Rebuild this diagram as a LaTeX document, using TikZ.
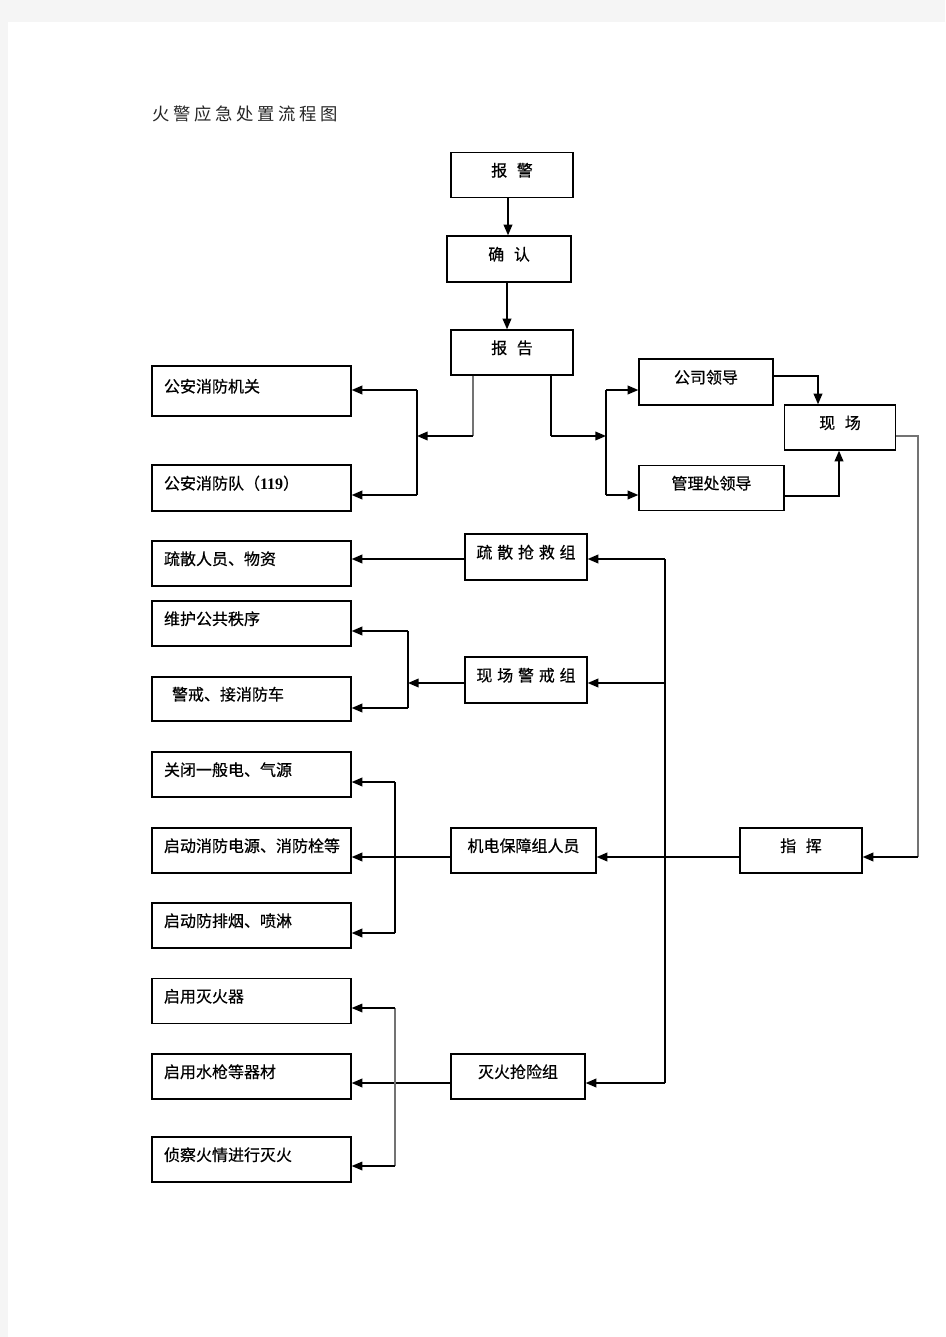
\documentclass[tikz,border=0pt]{standalone}
\usepackage{fontspec}
\setmainfont{Liberation Serif}
\newfontfamily\cjk{Noto Sans CJK SC}
\newfontfamily\cjkb[FakeBold=0.5]{Noto Sans CJK SC}
\usetikzlibrary{arrows.meta}

\newcommand{\zgap}{\hspace{0.6em}}
\newcommand{\xgap}{\hspace{0.3em}}

\tikzset{
    box/.style={draw=black, line width=1pt, inner sep=0pt, text height=9pt, text depth=7pt,
        font=\cjkb\fontsize{12pt}{14pt}\selectfont},
    leftbox/.style={box, minimum width=149.25pt, minimum height=33.75pt,
        text width=131.25pt, inner xsep=9pt, align=left},
    arr/.style={line width=1.2pt, -{Triangle[length=8pt,width=6.5pt]}},
    bus/.style={line width=1.2pt},
    greyline/.style={line width=0.8pt, draw=black!55},
}

\begin{document}
\begin{tikzpicture}[x=0.75pt, y=-0.75pt]
    % Fondo / pagina
    \useasboundingbox (0,0) rectangle (945,1337);
    \fill[gray!8] (0,0) rectangle (945,1337);
    \fill[white] (8,22) rectangle (945,1337);

    % Titulo
    \node[anchor=west, inner sep=0pt, text=black!85,
        font=\cjk\fontsize{13pt}{15pt}\selectfont\addfontfeature{LetterSpace=21}] (title) at (152,114) {火警应急处置流程图};

    % Cajas centrales
    \node[box, minimum width=91.5pt, minimum height=33.75pt] (bj) at (512,175) {报\zgap 警};
    \node[box, minimum width=93pt, minimum height=34.5pt] (qr) at (509,259) {确\zgap 认};
    \node[box, minimum width=91.5pt, minimum height=33.75pt] (bg) at (512,352.5) {报\zgap 告};
    \node[box, minimum width=100.5pt, minimum height=34.5pt] (gsld) at (706,382) {公司领导};
    \node[box, minimum width=108.75pt, minimum height=33.75pt] (glcld) at (711.5,488) {管理处领导};
    \node[box, minimum width=83.25pt, minimum height=33.75pt] (xc) at (840,427.5) {现\zgap 场};
    \node[box, minimum width=91.5pt, minimum height=34.5pt] (ssqj) at (526,557) {疏\xgap 散\xgap 抢\xgap 救\xgap 组};
    \node[box, minimum width=91.5pt, minimum height=34.5pt] (xcjj) at (526,680) {现\xgap 场\xgap 警\xgap 戒\xgap 组};
    \node[box, minimum width=108.75pt, minimum height=33.75pt] (jdbz) at (523.5,850.5) {机电保障组人员};
    \node[box, minimum width=91.5pt, minimum height=33.75pt] (zh) at (801,850.5) {指\zgap 挥};
    \node[box, minimum width=100.5pt, minimum height=33.75pt] (mhqx) at (518,1076.5) {灭火抢险组};

    % Cajas izquierda
    \node[leftbox, minimum height=37.5pt] (gajg) at (251.5,391) {公安消防机关};
    \node[leftbox, minimum height=34.5pt] (gaxfd) at (251.5,488) {公安消防队（{\rmfamily\bfseries 119}）};
    \node[leftbox] (ssry) at (251.5,563.5) {疏散人员、物资};
    \node[leftbox] (whzx) at (251.5,623.5) {维护公共秩序};
    \node[leftbox, minimum height=33pt] (jj) at (251.5,699) {\hspace{0.5em}警戒、接消防车};
    \node[leftbox] (gbd) at (251.5,774.5) {关闭一般电、气源};
    \node[leftbox] (qdxf) at (251.5,850.5) {启动消防电源、消防栓等};
    \node[leftbox] (qdpy) at (251.5,925.5) {启动防排烟、喷淋};
    \node[leftbox] (qymh) at (251.5,1001) {启用灭火器};
    \node[leftbox] (qysq) at (251.5,1076.5) {启用水枪等器材};
    \node[leftbox] (zcmh) at (251.5,1159.5) {侦察火情进行灭火};

    % Puntos de union
    \coordinate (bgL) at (473,436);
    \coordinate (jA) at (417,436);
    \coordinate (jA1) at (417,390);
    \coordinate (jA2) at (417,495);
    \coordinate (bgR) at (551,436);
    \coordinate (jB) at (606,436);
    \coordinate (jB1) at (606,390);
    \coordinate (jB2) at (606,495);
    \coordinate (gsR) at (818,376);
    \coordinate (glR) at (839,496);
    \coordinate (xz) at (918,436);
    \coordinate (xz1) at (918,857);
    \coordinate (zj) at (665,857);
    \coordinate (bus1) at (665,559);
    \coordinate (bus3) at (665,683);
    \coordinate (bus2) at (665,1083);
    \coordinate (jC) at (408,683);
    \coordinate (jC1) at (408,631);
    \coordinate (jC2) at (408,708);
    \coordinate (jD1) at (395,782);
    \coordinate (jD2) at (395,933);
    \coordinate (jE1) at (395,1008);
    \coordinate (jE2) at (395,1166);

    % Flechas superiores
    \draw[arr] ([xshift=-3pt]bj.south) -- ([xshift=-3pt]bj.south |- qr.north);
    \draw[arr] ([xshift=-1.5pt]qr.south) -- ([xshift=-1.5pt]qr.south |- bg.north);

    % Rama izquierda (公安)
    \draw[greyline] (bgL |- bg.south) -- (bgL);
    \draw[arr] (bgL) -- (jA);
    \draw[bus] (jA1) -- (jA2);
    \draw[arr] (jA1) -- (jA1 -| gajg.east);
    \draw[arr] (jA2) -- (jA2 -| gaxfd.east);

    % Rama derecha (领导)
    \draw[bus] (bgR |- bg.south) -- (bgR);
    \draw[arr] (bgR) -- (jB);
    \draw[bus] (jB1) -- (jB2);
    \draw[arr] (jB1) -- (jB1 -| gsld.west);
    \draw[arr] (jB2) -- (jB2 -| glcld.west);
    \draw[arr] (gsld.east |- gsR) -| (gsR |- xc.north);
    \draw[arr] (glcld.east |- glR) -| (glR |- xc.south);

    % Bajada hasta 指挥
    \draw[greyline] (xc.east |- xz) -- (xz) -- (xz1);
    \draw[arr] (xz1) -- (xz1 -| zh.east);
    \draw[arr] (zh.west |- zj) -- (jdbz.east |- zj);

    % Linea vertical de los grupos
    \draw[bus] (bus1) -- (bus2);
    \draw[arr] (bus1) -- (bus1 -| ssqj.east);
    \draw[arr] (bus3) -- (bus3 -| xcjj.east);
    \draw[arr] (bus2) -- (bus2 -| mhqx.east);

    % 疏散抢救组
    \draw[arr] (ssqj.west |- bus1) -- (ssry.east |- bus1);

    % 现场警戒组
    \draw[arr] (xcjj.west |- jC) -- (jC);
    \draw[bus] (jC1) -- (jC2);
    \draw[arr] (jC1) -- (jC1 -| whzx.east);
    \draw[arr] (jC2) -- (jC2 -| jj.east);

    % 机电保障组
    \draw[arr] (jdbz.west |- zj) -- (qdxf.east |- zj);
    \draw[bus] (jD1) -- (jD2);
    \draw[arr] (jD1) -- (jD1 -| gbd.east);
    \draw[arr] (jD2) -- (jD2 -| qdpy.east);

    % 灭火抢险组
    \draw[arr] (mhqx.west |- bus2) -- (qysq.east |- bus2);
    \draw[greyline] (jE1) -- (jE2);
    \draw[arr, line width=0.9pt] (jE1) -- (jE1 -| qymh.east);
    \draw[arr, line width=0.9pt] (jE2) -- (jE2 -| zcmh.east);
\end{tikzpicture}
\end{document}
